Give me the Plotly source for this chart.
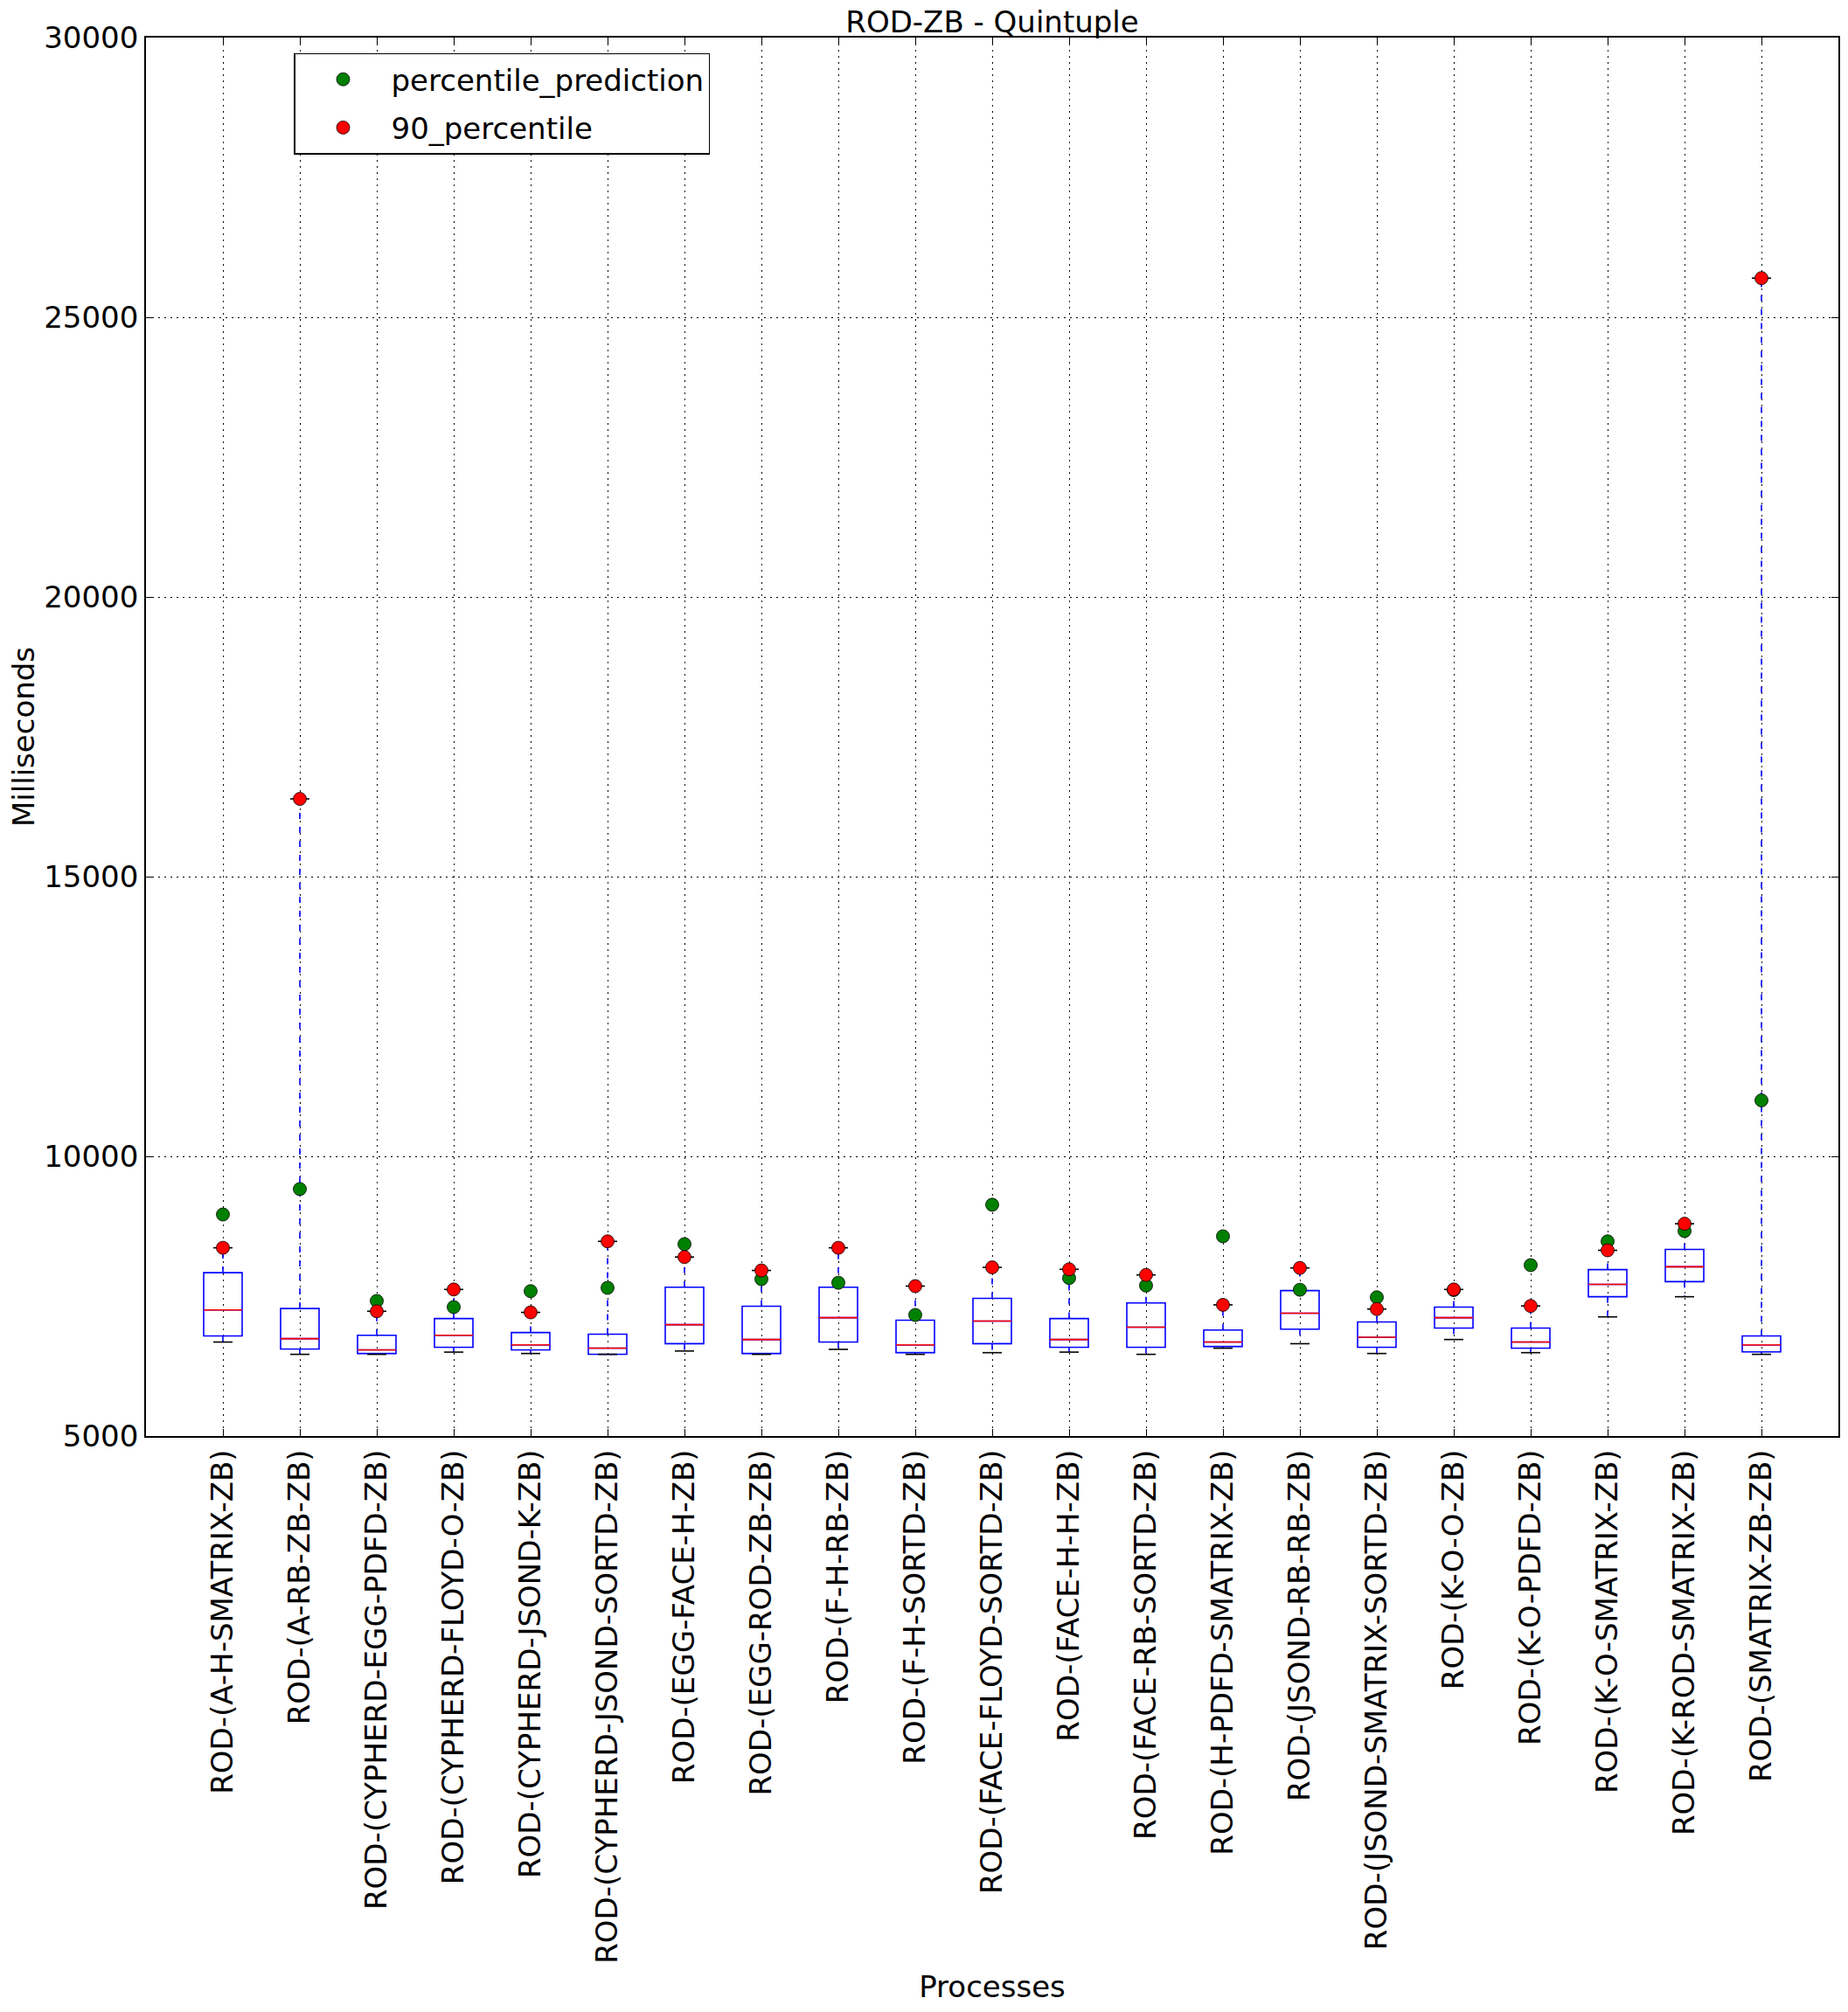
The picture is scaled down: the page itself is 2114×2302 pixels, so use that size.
import plotly.graph_objects as go

processes = [
    "ROD-(A-H-SMATRIX-ZB)",
    "ROD-(A-RB-ZB-ZB)",
    "ROD-(CYPHERD-EGG-PDFD-ZB)",
    "ROD-(CYPHERD-FLOYD-O-ZB)",
    "ROD-(CYPHERD-JSOND-K-ZB)",
    "ROD-(CYPHERD-JSOND-SORTD-ZB)",
    "ROD-(EGG-FACE-H-ZB)",
    "ROD-(EGG-ROD-ZB-ZB)",
    "ROD-(F-H-RB-ZB)",
    "ROD-(F-H-SORTD-ZB)",
    "ROD-(FACE-FLOYD-SORTD-ZB)",
    "ROD-(FACE-H-H-ZB)",
    "ROD-(FACE-RB-SORTD-ZB)",
    "ROD-(H-PDFD-SMATRIX-ZB)",
    "ROD-(JSOND-RB-RB-ZB)",
    "ROD-(JSOND-SMATRIX-SORTD-ZB)",
    "ROD-(K-O-O-ZB)",
    "ROD-(K-O-PDFD-ZB)",
    "ROD-(K-O-SMATRIX-ZB)",
    "ROD-(K-ROD-SMATRIX-ZB)",
    "ROD-(SMATRIX-ZB-ZB)",
]

whisker_low = [6680, 6460, 6460, 6500, 6475, 6460, 6520, 6460, 6550, 6460, 6490,
               6500, 6460, 6570, 6650, 6475, 6725, 6490, 7130, 7490, 6460]
q1 = [6790, 6555, 6475, 6585, 6540, 6460, 6650, 6475, 6680, 6490, 6650,
      6585, 6585, 6600, 6910, 6585, 6930, 6570, 7490, 7760, 6505]
median = [7255, 6740, 6540, 6800, 6630, 6570, 6990, 6725, 7115, 6630, 7055,
          6725, 6945, 6680, 7195, 6765, 7115, 6680, 7710, 8025, 6630]
q3 = [7920, 7280, 6800, 7100, 6850, 6820, 7660, 7320, 7660, 7070, 7460,
      7100, 7380, 6895, 7600, 7040, 7305, 6930, 7975, 8335, 6790]
# 90th percentile (the upper whisker ends here as well)
percentile_90 = [8365, 16390, 7230, 7620, 7210, 8480, 8200, 7960, 8365, 7680, 8015,
                 7980, 7880, 7345, 8005, 7270, 7620, 7325, 8320, 8795, 25700]
percentile_prediction = [8960, 9415, 7415, 7305, 7590, 7650, 8430, 7805, 7740, 7165, 9135,
                         7825, 7690, 8570, 7615, 7480, 7610, 8055, 8480, 8665, 11000]

y_ticks = [5000, 10000, 15000, 20000, 25000, 30000]

FONT = "DejaVu Sans"
FS = 34
BOX_W = 0.5
CAP_W = 0.25

positions = list(range(1, len(processes) + 1))

fig = go.Figure()

# boxes (whiskers drawn separately, dashed)
fig.add_trace(go.Box(
    x=positions, q1=q1, median=median, q3=q3,
    lowerfence=q1, upperfence=q3,
    width=BOX_W, whiskerwidth=0,
    line=dict(color="#0000ff", width=1.6),
    fillcolor="rgba(255,255,255,0)",
    boxpoints=False, showlegend=False, hoverinfo="skip",
))

# whiskers
wx, wy = [], []
for p, lo, a, b, hi in zip(positions, whisker_low, q1, q3, percentile_90):
    wx += [p, p, None, p, p, None]
    wy += [a, lo, None, b, hi, None]
fig.add_trace(go.Scatter(x=wx, y=wy, mode="lines",
                         line=dict(color="#0000ff", width=1.6, dash="7px,9px"),
                         showlegend=False, hoverinfo="skip"))

# caps
cx, cy = [], []
for p, lo, hi in zip(positions, whisker_low, percentile_90):
    cx += [p - CAP_W / 2, p + CAP_W / 2, None, p - CAP_W / 2, p + CAP_W / 2, None]
    cy += [lo, lo, None, hi, hi, None]
fig.add_trace(go.Scatter(x=cx, y=cy, mode="lines",
                         line=dict(color="black", width=1.6),
                         showlegend=False, hoverinfo="skip"))

# medians
mx, my = [], []
for p, m in zip(positions, median):
    mx += [p - BOX_W / 2, p + BOX_W / 2, None]
    my += [m, m, None]
fig.add_trace(go.Scatter(x=mx, y=my, mode="lines",
                         line=dict(color="#ff0000", width=1.6),
                         showlegend=False, hoverinfo="skip"))

fig.add_trace(go.Scatter(
    x=positions, y=percentile_prediction, mode="markers", name="percentile_prediction",
    legendgroup="a",
    marker=dict(color="#008000", size=15, line=dict(color="black", width=0.8)),
))
fig.add_trace(go.Scatter(
    x=positions, y=percentile_90, mode="markers", name="90_percentile",
    legendgroup="b",
    marker=dict(color="#ff0000", size=15, line=dict(color="black", width=0.8)),
))

axis_common = dict(
    showgrid=True, gridcolor="black", gridwidth=1, griddash="2px,5px",
    showline=True, linecolor="black", linewidth=1.6, mirror="ticks",
    ticks="inside", ticklen=8, tickwidth=1.3, tickcolor="black",
    zeroline=False, automargin=False,
    tickfont=dict(family=FONT, size=FS, color="black"),
)

fig.update_layout(
    width=2114, height=2302,
    margin=dict(l=167, r=11, t=43, b=659),
    paper_bgcolor="white", plot_bgcolor="white",
    font=dict(family=FONT, size=FS, color="black"),
    title=dict(text="ROD-ZB - Quintuple", x=0.5, xref="paper", xanchor="center",
               y=1 - 25 / 2302, yref="container", yanchor="middle",
               font=dict(family=FONT, size=FS, color="black")),
    xaxis=dict(range=[0, 22], tickvals=positions, ticktext=processes, tickangle=-90,
               title=dict(text="Processes", font=dict(family=FONT, size=FS, color="black")),
               **axis_common),
    yaxis=dict(range=[5000, 30000], tickvals=y_ticks, ticktext=[str(v) for v in y_ticks],
               **axis_common),
    legend=dict(x=0.0873, y=0.989, xanchor="left", yanchor="top",
                bordercolor="black", borderwidth=1.5, bgcolor="white",
                font=dict(family=FONT, size=FS, color="black"),
                traceorder="grouped", tracegroupgap=8, itemwidth=100),
    showlegend=True,
    annotations=[dict(text="Milliseconds", xref="paper", yref="paper",
                      x=-0.0723, y=0.5, xanchor="center", yanchor="middle",
                      textangle=-90, showarrow=False,
                      font=dict(family=FONT, size=FS, color="black"))],
)

fig.write_html("out.html", config={"displayModeBar": False},
               post_script="document.body.style.margin='0';")
